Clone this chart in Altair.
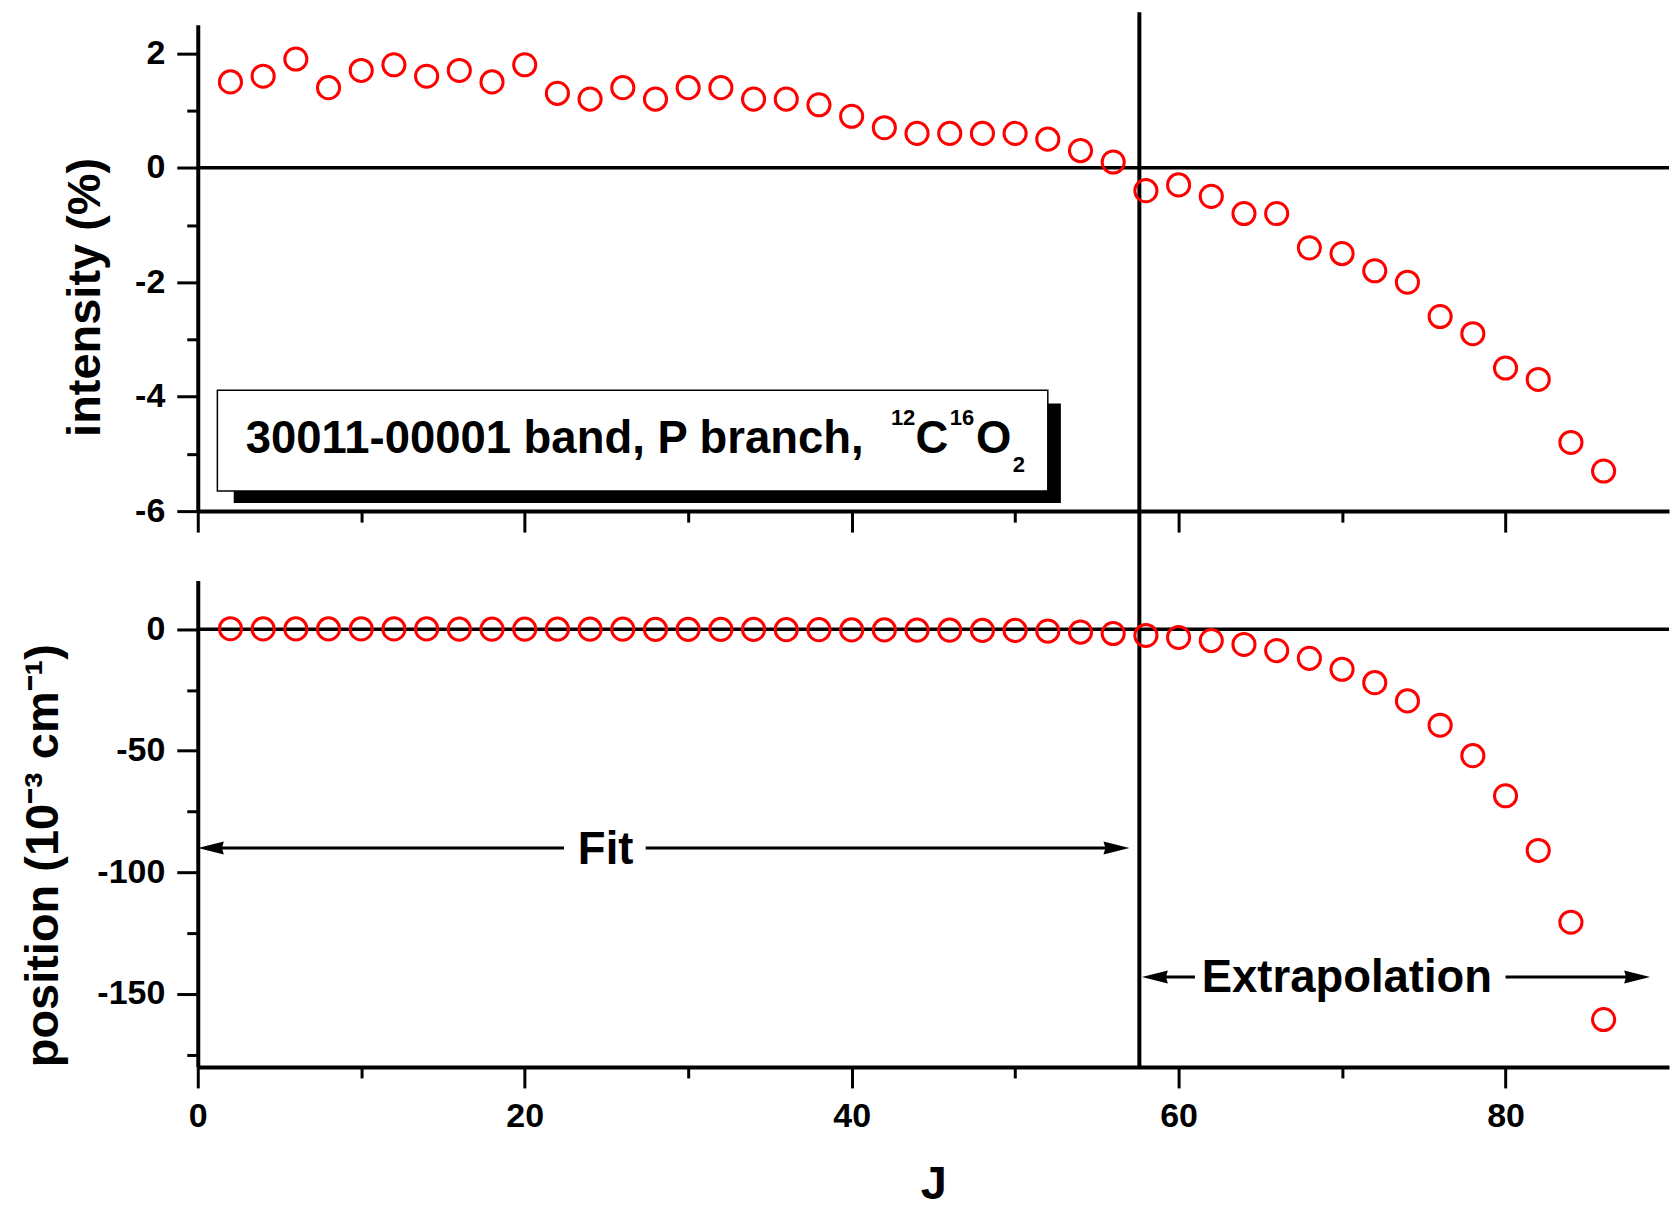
import altair as alt
import pandas as pd

# ---------------- data ----------------
J = [2, 4, 6, 8, 10, 12, 14, 16, 18, 20, 22, 24, 26, 28, 30, 32, 34, 36, 38, 40,
     42, 44, 46, 48, 50, 52, 54, 56, 58, 60, 62, 64, 66, 68, 70, 72, 74, 76, 78, 80,
     82, 84, 86]
intensity = [1.5, 1.6, 1.9, 1.4, 1.7, 1.8, 1.6, 1.7, 1.5, 1.8, 1.3, 1.2, 1.4, 1.2, 1.4,
             1.4, 1.2, 1.2, 1.1, 0.9, 0.7, 0.6, 0.6, 0.6, 0.6, 0.5, 0.3, 0.1, -0.4, -0.3,
             -0.5, -0.8, -0.8, -1.4, -1.5, -1.8, -2.0, -2.6, -2.9, -3.5, -3.7, -4.8, -5.3]
position = [0.2, 0.1, 0.1, 0.1, 0.1, 0.1, 0.1, 0.0, 0.0, 0.0, 0.0, 0.0, 0.0, -0.1, -0.1,
            -0.1, -0.1, -0.2, -0.2, -0.3, -0.3, -0.4, -0.4, -0.5, -0.5, -0.8, -1.2, -1.8,
            -2.6, -3.4, -4.7, -6.3, -8.8, -12.0, -16.5, -22.0, -29.5, -39.5, -52.0, -68.5,
            -91.0, -120.5, -160.5]

x_major = [0, 20, 40, 60, 80]
x_minor = [10, 30, 50, 70]
int_major = [-6, -4, -2, 0, 2]
int_minor = [-5, -3, -1, 1]
pos_major = [-150, -100, -50, 0]
pos_minor = [-175, -125, -75, -25]
J_split = 57.6

legend_main = "30011-00001 band, P branch,"

df = pd.DataFrame({"J": J, "intensity": intensity, "position": position})
one = pd.DataFrame({"k": [0]})

# ---------------- style ----------------
W, H, GAP = 1473, 487, 69.5
FONT = "Liberation Sans"
RED = "#ff0000"
ARROW_L = "M -1 0 L 1 -0.5 L 0.85 0 L 1 0.5 Z"
ARROW_R = "M 1 0 L -1 -0.5 L -0.85 0 L -1 0.5 Z"

xs = alt.Scale(domain=[0, 90], nice=False, zero=False)
ys_top = alt.Scale(domain=[-6, 2.5], nice=False, zero=False)
ys_bot = alt.Scale(domain=[-180, 20], nice=False, zero=False)


def pts(ycol, yscale, xaxis, yaxis):
    return alt.Chart(df).mark_point(
        shape="circle", filled=False, color=RED, size=490, strokeWidth=3, opacity=1
    ).encode(
        x=alt.X("J:Q", scale=xs, axis=xaxis),
        y=alt.Y(f"{ycol}:Q", scale=yscale, axis=yaxis),
    )


def minor(ycol, yscale, yvals):
    return alt.Chart(df).mark_point(opacity=0).encode(
        x=alt.X("J:Q", scale=xs, axis=alt.Axis(values=x_minor, tickSize=11, labels=False,
                                                 domain=False, title=None, orient="bottom")),
        y=alt.Y(f"{ycol}:Q", scale=yscale, axis=alt.Axis(values=yvals, tickSize=11, labels=False,
                                                          domain=False, title=None, orient="left")),
    )


def zero_rule():
    return alt.Chart(one).mark_rule(color="black", strokeWidth=3.5).encode(
        y=alt.datum(0), x=alt.value(0), x2=alt.value(W)
    )


def txt(s, x, y, size=45.5, align="left", baseline="alphabetic"):
    return alt.Chart(one).mark_text(
        text=s, font=FONT, fontSize=size, fontWeight="bold", color="black",
        align=align, baseline=baseline
    ).encode(x=alt.datum(x), y=alt.datum(y))


def hseg(x1, x2, y):
    return alt.Chart(one).mark_rule(color="black", strokeWidth=3).encode(
        x=alt.datum(x1), x2=alt.datum(x2), y=alt.datum(y)
    )


def head(shape, x, y):
    return alt.Chart(one).mark_point(
        shape=shape, filled=True, color="black", size=676, opacity=1, strokeWidth=0
    ).encode(x=alt.datum(x), y=alt.datum(y))


# ---------------- top panel ----------------
top_pts = pts(
    "intensity", ys_top,
    alt.Axis(values=x_major, tickSize=21, labels=False, title=None, orient="bottom"),
    alt.Axis(values=int_major, tickSize=21, labelExpr="toString(datum.value)",
             title="intensity (%)", titleX=-98, titleY=272.5, titleAngle=270,
             titleAlign="center", titleBaseline="alphabetic", orient="left"),
)

shadow = alt.Chart(one).mark_rect(color="black").encode(
    x=alt.datum(2.2), x2=alt.datum(52.8), y=alt.datum(-4.12), y2=alt.datum(-5.86)
)
box = alt.Chart(one).mark_rect(fill="white", stroke="black", strokeWidth=1.5).encode(
    x=alt.datum(1.2), x2=alt.datum(52.0), y=alt.datum(-3.89), y2=alt.datum(-5.65)
)
split_rule = alt.Chart(one).mark_rule(color="black", strokeWidth=4).encode(
    x=alt.datum(J_split), y=alt.value(-12.5), y2=alt.value(H + GAP + H)
)

top_major = alt.layer(
    zero_rule(), split_rule, shadow, box,
    txt(legend_main, 2.93, -4.99),
    txt("12", 42.4, -4.50, size=22),
    txt("C", 43.9, -4.99),
    txt("16", 46.0, -4.50, size=22),
    txt("O", 47.6, -4.99),
    txt("2", 49.85, -5.32, size=22),
    top_pts,
)
top = alt.layer(top_major, minor("intensity", ys_top, int_minor)).resolve_axis(
    x="independent", y="independent"
).properties(width=W, height=H)

# ---------------- bottom panel ----------------
bot_pts = pts(
    "position", ys_bot,
    alt.Axis(values=x_major, tickSize=21, labelExpr="toString(datum.value)", labelFlush=False,
             labelPadding=12, title="J", titleY=132, titleBaseline="alphabetic", orient="bottom"),
    alt.Axis(values=pos_major, tickSize=21, labelExpr="toString(datum.value)",
             title="position (10⁻³ cm⁻¹)", titleX=-140, titleY=275, titleAngle=270,
             titleAlign="center", titleBaseline="alphabetic", orient="left"),
)

bot_major = alt.layer(
    zero_rule(),
    hseg(0.8, 22.4, -90), hseg(27.4, 56.2, -90),
    head(ARROW_L, 0.8, -90), head(ARROW_R, 56.2, -90),
    txt("Fit", 24.95, -96.5, align="center"),
    hseg(58.55, 61.0, -143), hseg(80.0, 88.05, -143),
    head(ARROW_L, 58.55, -143), head(ARROW_R, 88.05, -143),
    txt("Extrapolation", 70.3, -149.1, align="center"),
    bot_pts,
)
bottom = alt.layer(bot_major, minor("position", ys_bot, pos_minor)).resolve_axis(
    x="independent", y="independent"
).properties(width=W, height=H)

chart = alt.vconcat(top, bottom, spacing=GAP, bounds="flush").resolve_scale(
    x="independent", y="independent"
).properties(
    padding={"left": 20, "top": 9, "right": 0, "bottom": 0},
    background="white",
).configure_view(stroke=None).configure_axis(
    domainColor="black", domainWidth=4, tickColor="black", tickWidth=3,
    labelFont=FONT, labelFontSize=34, labelFontWeight="bold", labelColor="black",
    labelPadding=12, titleFont=FONT, titleFontSize=47, titleFontWeight="bold",
    titleColor="black", grid=False,
)

chart.save("out.html", embed_options={"renderer": "svg", "actions": False})
